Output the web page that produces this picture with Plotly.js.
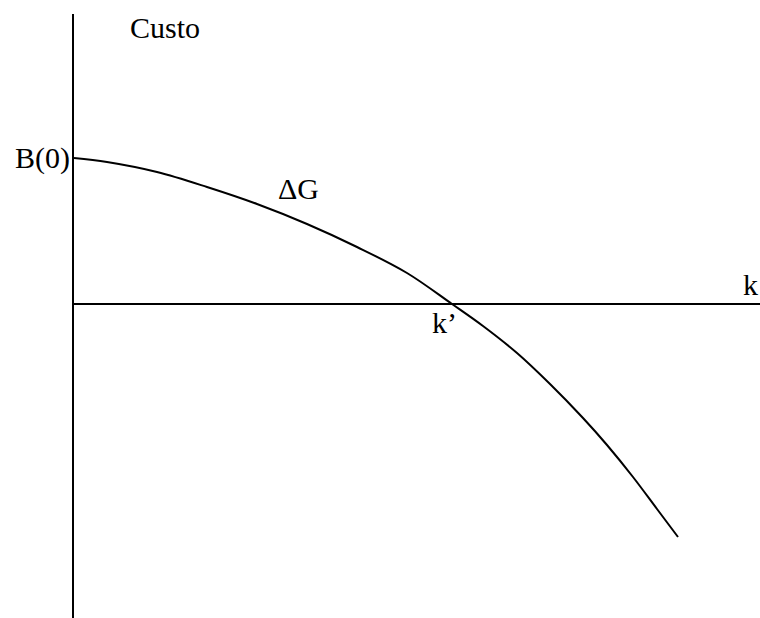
<!DOCTYPE html>
<html>
<head>
<meta charset="utf-8">
<script src="https://cdn.plot.ly/plotly-3.0.1.min.js"></script>
<style>html,body{margin:0;padding:0;background:#fff}#chart{width:760px;height:618px}</style>
</head>
<body>
<div id="chart"></div>
<script>
// Curve ΔG (custo vs k) (arbitrary units)
const kValues = [0, 0.33, 0.83, 1.33, 1.83, 2.33, 2.83, 3.33, 3.78, 4.09, 4.43, 4.76, 5.09, 5.33, 5.59, 5.83, 6.04];
const deltaG  = [1.46, 1.42, 1.32, 1.17, 1.00, 0.80, 0.57, 0.31, 0, -0.22, -0.49, -0.80, -1.14, -1.41, -1.73, -2.05, -2.33];
const labels = {custo: 'Custo', b0: 'B(0)', dg: 'ΔG', kprime: 'k’', k: 'k'};
const kPrime = 3.78;
const b0 = 1.46;

const font = {family: 'Times New Roman, Times, serif', size: 30, color: '#000'};

const trace = {
  x: kValues, y: deltaG, mode: 'lines', type: 'scatter',
  line: {color: '#000', width: 2, shape: 'spline', smoothing: 1},
  hoverinfo: 'none', cliponaxis: false
};

const layout = {
  width: 760, height: 618,
  margin: {l: 74, r: 0, t: 14, b: 0},
  paper_bgcolor: '#fff', plot_bgcolor: '#fff',
  showlegend: false,
  font: font,
  xaxis: {range: [0, 6.86], showgrid: false, zeroline: false, showticklabels: false, ticks: '', showline: false},
  yaxis: {range: [-3.14, 2.90], showgrid: false, zeroline: true, zerolinecolor: '#000', zerolinewidth: 2,
          showticklabels: false, ticks: '', showline: true, linecolor: '#000', linewidth: 2, mirror: false},
  annotations: [
    {x: 0.91, y: 2.77, text: labels.custo, showarrow: false, font: font, xanchor: 'center', yanchor: 'middle'},
    {xref: 'paper', x: 0, xshift: -2, y: b0, text: labels.b0, showarrow: false, font: font, xanchor: 'right', yanchor: 'middle'},
    {x: 2.24, y: 1.16, text: labels.dg, showarrow: false, font: font, xanchor: 'center', yanchor: 'middle'},
    {x: kPrime - 0.08, y: -0.18, text: labels.kprime, showarrow: false, font: font, xanchor: 'center', yanchor: 'middle'},
    {xref: 'paper', x: 1, y: 0.2, text: labels.k, showarrow: false, font: font, xanchor: 'right', yanchor: 'middle'}
  ]
};

Plotly.newPlot('chart', [trace], layout, {staticPlot: true, displayModeBar: false});
</script>
</body>
</html>
